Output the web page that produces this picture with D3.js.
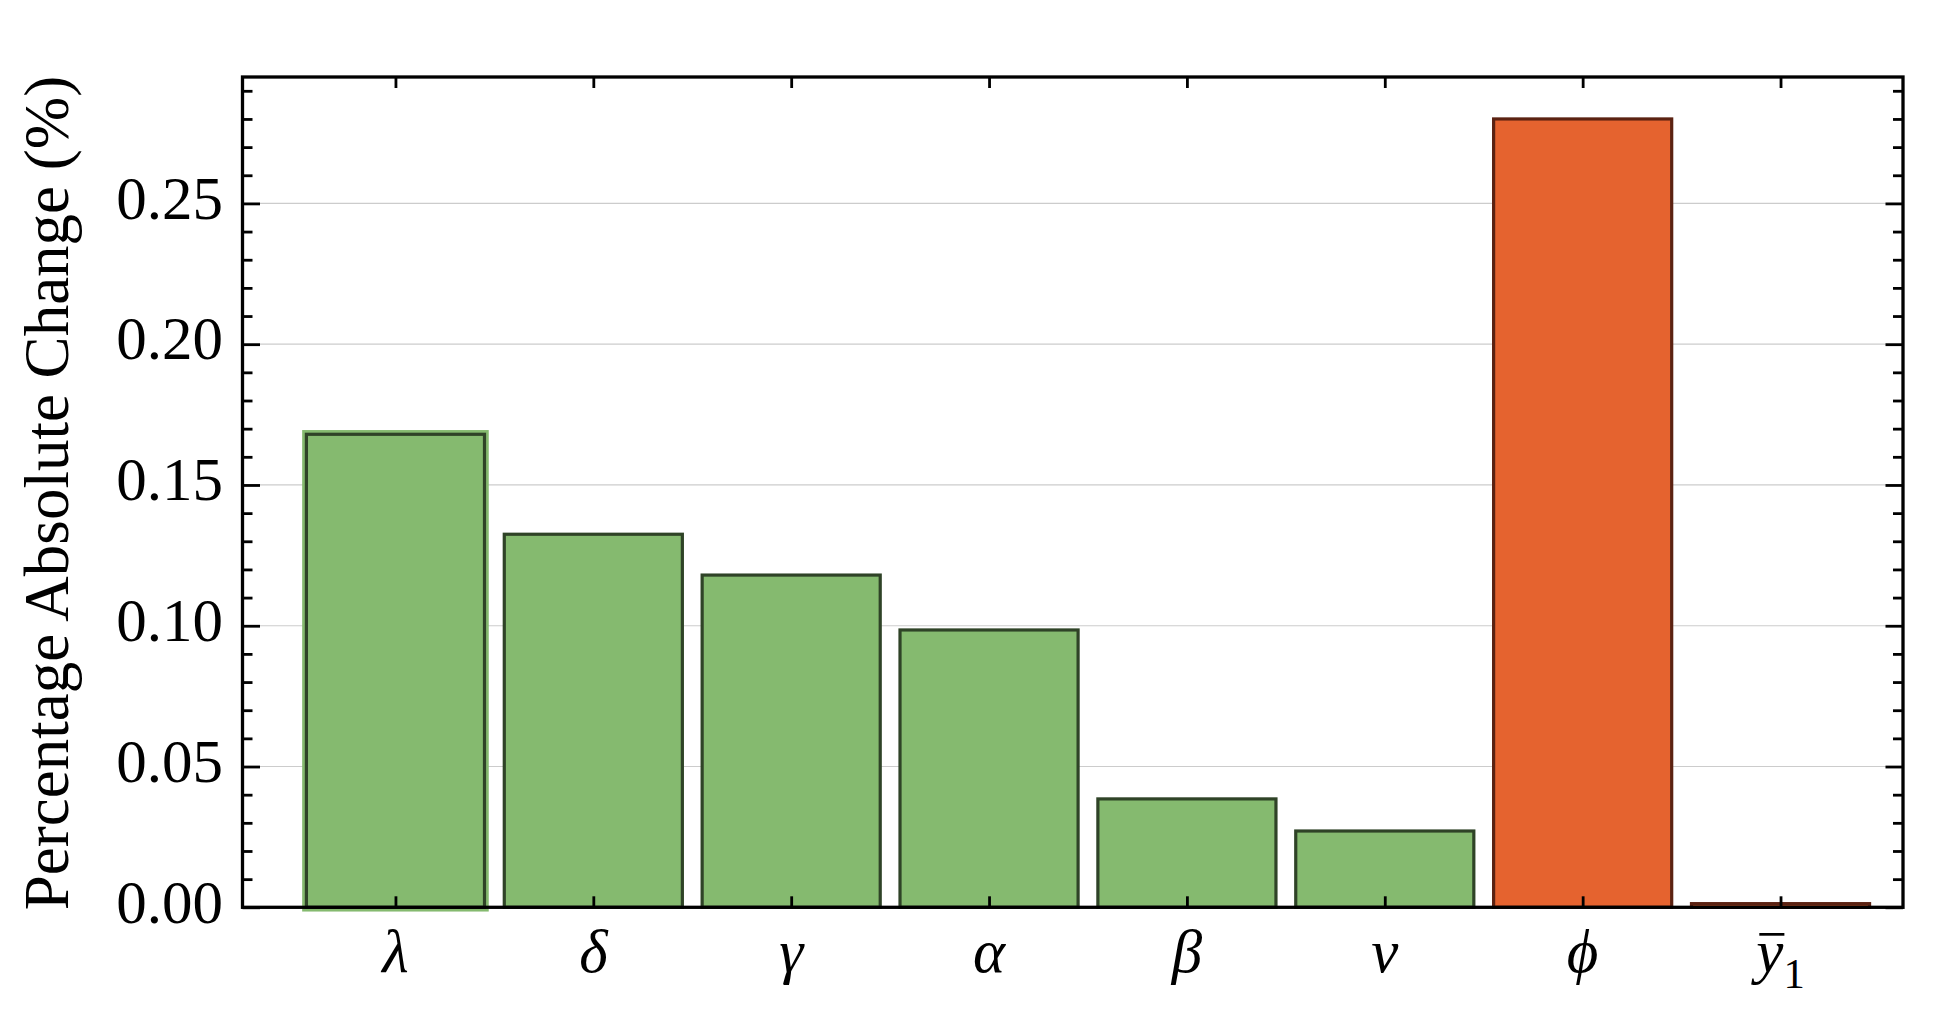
<!DOCTYPE html>
<html>
<head>
<meta charset="utf-8">
<script src="https://cdn.jsdelivr.net/npm/d3@7"></script>
<style>
  html, body { margin: 0; padding: 0; background: #ffffff; }
  svg { display: block; }
  text { font-family: "Liberation Serif", "Times New Roman", Times, serif; fill: #000; }
</style>
</head>
<body>
<svg id="chart" width="1960" height="1028"></svg>
<script>
// ---------- data ----------
const categorySymbols    = ["λ", "δ", "γ", "α", "β", "ν", "ϕ", "y"];
const categorySubscripts = ["", "", "", "", "", "", "", "1"];
const categoryOverline   = [false, false, false, false, false, false, false, true];
const values = [0.168, 0.1325, 0.118, 0.0985, 0.0385, 0.0271, 0.280, 0.0013];
const groups = ["base", "base", "base", "base", "base", "base", "output", "output"];
const highlighted = [true, false, false, false, false, false, false, false];
const yTickValues = [0, 0.05, 0.10, 0.15, 0.20, 0.25];
const yTickLabels = ["0.00", "0.05", "0.10", "0.15", "0.20", "0.25"];
const yMinorStep = 0.01;
const yLabel = "Percentage Absolute Change (%)";

// ---------- layout ----------
const W = 1960, H = 1028;
const plot = { left: 242.5, right: 1903, top: 77, bottom: 907.3 };
const fontSize = 61;
const labelFontSize = 63;

const fillColor = d3.scaleOrdinal().domain(["base", "output"]).range(["#85BA6F", "#E5632F"]);
const edgeColor = d3.scaleOrdinal().domain(["base", "output"]).range(["#2F4327", "#5B2212"]);

const svg = d3.select("#chart");
svg.append("rect").attr("width", W).attr("height", H).attr("fill", "#fff");

const idx = values.map((_, i) => i + 1);
const x = d3.scaleLinear().domain([0.227, 8.619]).range([plot.left, plot.right]);
const y = d3.scaleLinear().domain([0, 0.2949]).range([plot.bottom, plot.top]);
const barW = 0.9;

// gridlines
svg.append("g").selectAll("line").data(yTickValues.filter(v => v > 0)).join("line")
  .attr("x1", plot.left).attr("x2", plot.right)
  .attr("y1", d => y(d)).attr("y2", d => y(d))
  .attr("stroke", "#cccccc").attr("stroke-width", 1.2);

// bars
const bars = svg.append("g");
bars.selectAll("rect.halo").data(idx.filter((d, i) => highlighted[i])).join("rect")
  .attr("class", "halo")
  .attr("x", d => x(d - barW / 2)).attr("width", d => x(d + barW / 2) - x(d - barW / 2))
  .attr("y", d => y(values[d - 1])).attr("height", d => y(0) - y(values[d - 1]))
  .attr("fill", d => fillColor(groups[d - 1]))
  .attr("stroke", d => fillColor(groups[d - 1])).attr("stroke-width", 8.5);
bars.selectAll("rect.bar").data(idx).join("rect")
  .attr("class", "bar")
  .attr("x", d => x(d - barW / 2)).attr("width", d => x(d + barW / 2) - x(d - barW / 2))
  .attr("y", d => y(values[d - 1])).attr("height", d => y(0) - y(values[d - 1]))
  .attr("fill", d => fillColor(groups[d - 1]))
  .attr("stroke", d => edgeColor(groups[d - 1])).attr("stroke-width", 3.2);

// frame & ticks
const tickStroke = 2.8;
const minorTicks = d3.range(0, 0.2949, yMinorStep).map(v => Math.round(v * 100) / 100)
  .filter(v => !yTickValues.some(t => Math.abs(t - v) < 1e-9));

const yAxisL = d3.axisRight(y).tickValues(yTickValues).tickSize(17.5).tickFormat("");
const yAxisLm = d3.axisRight(y).tickValues(minorTicks).tickSize(10).tickFormat("");
const yAxisR = d3.axisLeft(y).tickValues(yTickValues).tickSize(17.5).tickFormat("");
const yAxisRm = d3.axisLeft(y).tickValues(minorTicks).tickSize(10).tickFormat("");
const xAxisB = d3.axisTop(x).tickValues(idx).tickSize(11).tickFormat("");
const xAxisT = d3.axisBottom(x).tickValues(idx).tickSize(11).tickFormat("");

function styleAxis(g) {
  g.select(".domain").remove();
  g.selectAll(".tick line").attr("stroke", "#000").attr("stroke-width", tickStroke);
}
svg.append("g").attr("transform", `translate(${plot.left},0)`).call(yAxisL).call(styleAxis);
svg.append("g").attr("transform", `translate(${plot.left},0)`).call(yAxisLm).call(styleAxis);
svg.append("g").attr("transform", `translate(${plot.right},0)`).call(yAxisR).call(styleAxis);
svg.append("g").attr("transform", `translate(${plot.right},0)`).call(yAxisRm).call(styleAxis);
svg.append("g").attr("transform", `translate(0,${plot.bottom})`).call(xAxisB).call(styleAxis);
svg.append("g").attr("transform", `translate(0,${plot.top})`).call(xAxisT).call(styleAxis);

svg.append("rect")
  .attr("x", plot.left).attr("y", plot.top)
  .attr("width", plot.right - plot.left).attr("height", plot.bottom - plot.top)
  .attr("fill", "none").attr("stroke", "#000").attr("stroke-width", 3.3);

// y tick labels
svg.append("g").selectAll("text").data(yTickValues).join("text")
  .attr("x", 223).attr("y", d => y(d)).attr("dy", "0.25em")
  .attr("text-anchor", "end").attr("font-size", fontSize)
  .text((d, i) => yTickLabels[i]);

// y axis label
svg.append("text")
  .attr("transform", `translate(68,493) rotate(-90)`)
  .attr("text-anchor", "middle").attr("font-size", labelFontSize)
  .text(yLabel);

// x category labels
const xl = svg.append("g").selectAll("text").data(idx).join("text")
  .attr("x", d => x(d)).attr("y", 972)
  .attr("text-anchor", "middle").attr("font-size", fontSize);
xl.append("tspan").attr("font-style", "italic").text(d => categorySymbols[d - 1]);
xl.filter(d => categorySubscripts[d - 1] !== "").append("tspan")
  .attr("font-size", fontSize * 0.7).attr("dy", 16)
  .text(d => categorySubscripts[d - 1]);
xl.filter(d => categoryOverline[d - 1]).each(function () {
  const box = this.getExtentOfChar(0);
  svg.append("line")
    .attr("x1", box.x + 3).attr("x2", box.x + box.width + 1)
    .attr("y1", 972 - 0.617 * fontSize).attr("y2", 972 - 0.617 * fontSize)
    .attr("stroke", "#000").attr("stroke-width", 2.7);
});
</script>
</body>
</html>
